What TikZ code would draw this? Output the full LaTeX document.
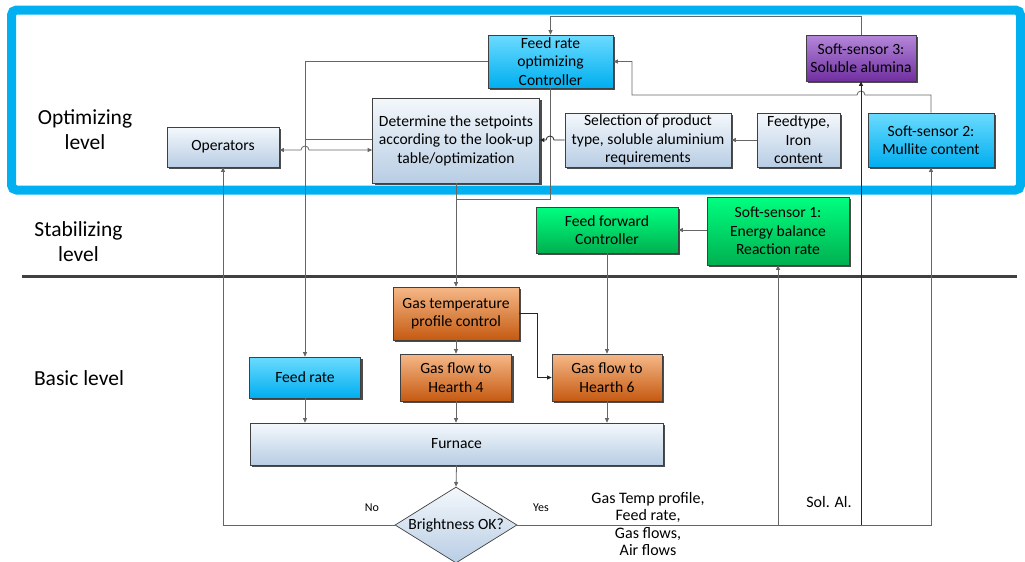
\documentclass[tikz,border=0pt]{standalone}
\usepackage{fontspec}
\setmainfont{Carlito}
\usetikzlibrary{shapes.geometric,shadows,arrows.meta}
\definecolor{frameblue}{HTML}{00B0F0}
\definecolor{boxborder}{HTML}{404040}
\definecolor{linegray}{HTML}{666666}
\definecolor{sepgray}{HTML}{404040}
\definecolor{grayTop}{HTML}{F4F8FC}
\definecolor{grayBot}{HTML}{B8CDE4}
\definecolor{cyanTop}{HTML}{6BDBFF}
\definecolor{cyanBot}{HTML}{00AEEF}
\definecolor{purpTop}{HTML}{B587DA}
\definecolor{purpBot}{HTML}{7030A0}
\definecolor{greenTop}{HTML}{00FF80}
\definecolor{greenBot}{HTML}{00B050}
\definecolor{orTop}{HTML}{F6B888}
\definecolor{orBot}{HTML}{C55A11}
\newcommand\boxfont{\fontsize{15.6}{18.5}\selectfont}
\newcommand\levelfont{\fontsize{21.5}{25}\selectfont}
\newcommand\notefont{\fontsize{16}{17.5}\selectfont}
\newcommand\yesnofont{\fontsize{12}{14}\selectfont}
\begin{document}
\begin{tikzpicture}[x=1pt,y=-1pt,
  box/.style={draw=boxborder, line width=0.7pt, align=center, font=\boxfont, inner sep=1pt,
    drop shadow={shadow xshift=2pt,shadow yshift=-2pt,fill=black!70,opacity=1}},
  graybox/.style={box, top color=grayTop, bottom color=grayBot},
  cyanbox/.style={box, top color=cyanTop, bottom color=cyanBot},
  purpbox/.style={box, top color=purpTop, bottom color=purpBot},
  greenbox/.style={box, top color=greenTop, bottom color=greenBot},
  orbox/.style={box, top color=orTop, bottom color=orBot},
  conn/.style={draw=linegray, line width=0.8pt},
  darkconn/.style={draw=black!85, line width=0.8pt},
  arr/.style={-{Triangle[length=4.5pt,width=4pt]}},
  dblarr/.style={{Triangle[length=4.5pt,width=4pt]}-{Triangle[length=4.5pt,width=4pt]}},
  level/.style={font=\levelfont, align=center},
  note/.style={font=\notefont, align=center},
  yesno/.style={font=\yesnofont}
]
\useasboundingbox (0,0) rectangle (1025,562);

% frame and separator
\draw[frameblue, line width=9pt, rounded corners=5pt] (11.5,10) rectangle (1020.5,190);
\draw[sepgray, line width=3pt] (22,276) -- (1017,276);

% level labels
\node[level] (lopt) at (85,130) {Optimizing\\level};
\node[level] (lstab) at (78.5,242) {Stabilizing\\level};
\node[level] (lbasic) at (79,378) {Basic level};

% nodes
\node[cyanbox, minimum width=125pt, minimum height=53pt] (ctrl) at (550.5,61.5) {Feed rate\\optimizing\\Controller};
\node[purpbox, minimum width=110pt, minimum height=46pt] (ss3) at (861,58) {Soft-sensor 3:\\Soluble alumina};
\node[graybox, minimum width=167pt, minimum height=85pt] (det) at (456,140.5) {Determine the setpoints\\according to the look-up\\table/optimization};
\node[graybox, minimum width=112pt, minimum height=40pt] (ops) at (223,147) {Operators};
\node[graybox, minimum width=166pt, minimum height=54pt] (sel) at (648,140) {Selection of product\\type, soluble aluminium\\requirements};
\node[graybox, minimum width=83pt, minimum height=54pt] (feed) at (798.5,140) {Feedtype,\\Iron\\content};
\node[cyanbox, minimum width=126pt, minimum height=54pt] (ss2) at (931,140) {Soft-sensor 2:\\Mullite content};
\node[greenbox, minimum width=142pt, minimum height=46pt] (ff) at (607,230) {Feed forward\\Controller};
\node[greenbox, minimum width=142pt, minimum height=68pt] (ss1) at (778,231) {Soft-sensor 1:\\Energy balance\\Reaction rate};
\node[orbox, minimum width=126pt, minimum height=53pt] (gtp) at (456,313.5) {Gas temperature\\profile control};
\node[cyanbox, minimum width=111pt, minimum height=41pt] (fr) at (305,377.5) {Feed rate};
\node[orbox, minimum width=111pt, minimum height=47pt] (gf4) at (456,377.5) {Gas flow to\\Hearth 4};
\node[orbox, minimum width=110pt, minimum height=47pt] (gf6) at (607,377.5) {Gas flow to\\Hearth 6};
\node[graybox, minimum width=413pt, minimum height=42pt] (furn) at (456.5,444) {Furnace};
\node[diamond, draw=boxborder, line width=0.7pt, top color=grayTop, bottom color=grayBot,
      aspect=1.6, minimum width=122pt, minimum height=76pt, inner sep=0pt, font=\boxfont] (dia) at (456,525) {Brightness OK?};

% free coordinates
\coordinate (topy) at (0,16);
\coordinate (mergey) at (0,199);

% connectors, optimizing level
\draw[conn,arr] (ss3.north) |- (ctrl.north |- topy) -- (ctrl.north);
\draw[conn,arr] (ss2.north) |- (865,95) arc[start angle=0,end angle=180,radius=4pt] -- (632,95) |- (ctrl.east);
\draw[conn] (ctrl.south) |- (det.south |- mergey);
\draw[conn,arr] (det.south) -- (gtp.north);
\draw[conn,arr] (ctrl.west) -| (fr.north);
\draw[conn] (det.west |- 0,139) -- (fr.north |- 0,139);
\draw[conn,dblarr] (ops.east |- 0,150) -- (301,150) arc[start angle=180,end angle=0,radius=4pt] -- (det.west |- 0,150);
\draw[darkconn,arr] (sel.west) -- (554,140) arc[start angle=0,end angle=180,radius=4pt] -- (det.east |- sel.west);
\draw[conn,arr] (feed.west) -- (sel.east);

% stabilizing level
\draw[conn,arr] (ss1.west |- ff.east) -- (ff.east);
\draw[conn,arr] (ff.south) -- (gf6.north);

% basic level
\draw[darkconn,arr] (gtp.east) -- ++(18,0) |- (gf6.west);
\draw[conn,arr] (gtp.south) -- (gf4.north);
\draw[conn,arr] (fr.south) -- (fr.south |- furn.north);
\draw[conn,arr] (gf4.south) -- (gf4.south |- furn.north);
\draw[conn,arr] (gf6.south) -- (gf6.south |- furn.north);
\draw[conn,arr] (furn.south) -- (dia.north);

% feedback
\draw[conn,arr] (dia.west) -| (ops.south);
\draw[conn,arr] (dia.east) -| (ss2.south);
\draw[conn,arr] (ss1.south |- dia.east) -- (ss1.south);
\draw[darkconn,arr] (ss3.south |- dia.east) -- (ss3.south);

% labels
\node[yesno] (no) at (372,508) {No};
\node[yesno] (yes) at (541,508) {Yes};
\node[note] (gasnote) at (648,524) {Gas Temp profile,\\Feed rate,\\Gas flows,\\Air flows};
\node[note] (solal) at (829,502) {Sol. Al.};
\end{tikzpicture}
\end{document}
